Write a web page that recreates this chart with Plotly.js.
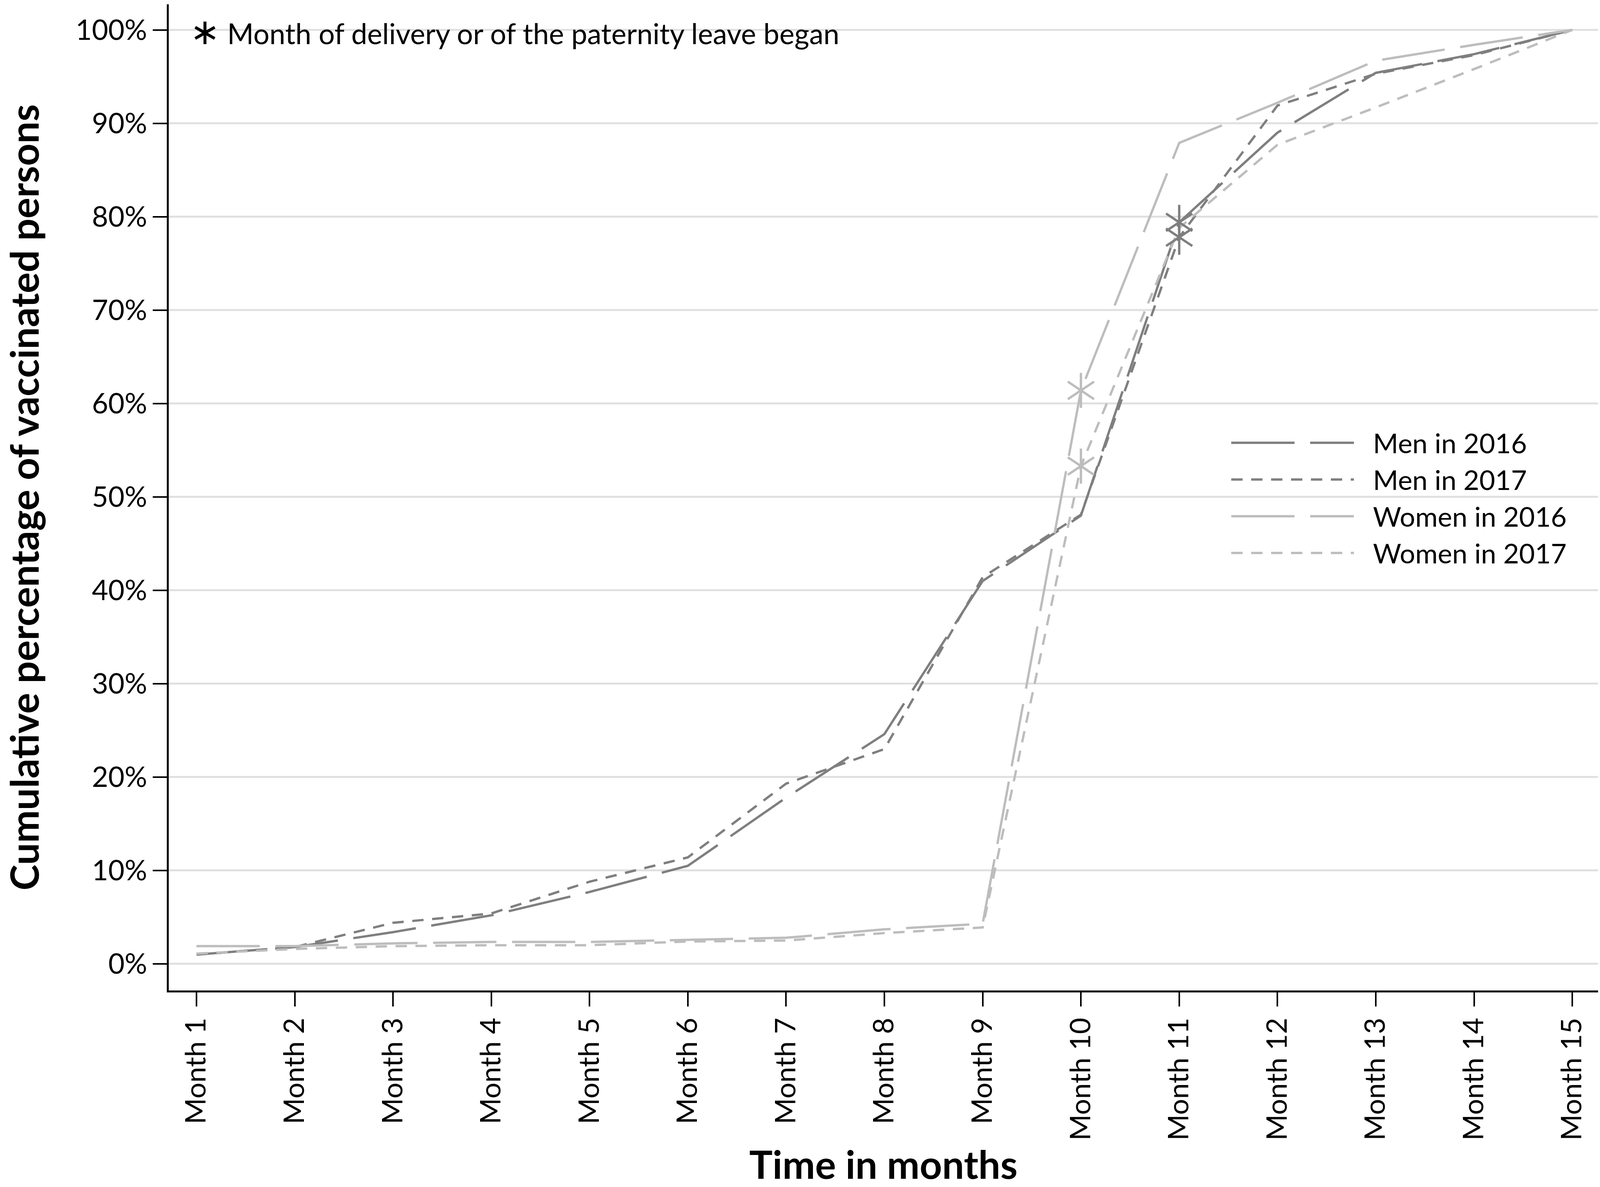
<!DOCTYPE html>
<html>
<head>
<meta charset="utf-8">
<script src="https://cdn.plot.ly/plotly-3.0.1.min.js"></script>
<style>
  html, body { margin: 0; padding: 0; background: #ffffff; }
  #chart { width: 4107px; height: 3038px; }
</style>
</head>
<body>
<div id="chart"></div>
<script>
// ---- data ----
var months = ["Month 1", "Month 2", "Month 3", "Month 4", "Month 5", "Month 6", "Month 7", "Month 8",
              "Month 9", "Month 10", "Month 11", "Month 12", "Month 13", "Month 14", "Month 15"];
var men2016   = [1.0, 1.8, 3.4, 5.2, 7.7, 10.5, 17.8, 24.6, 41.0, 48.0, 79.4, 89.0, 95.4, 97.4, 100];
var men2017   = [1.0, 1.8, 4.4, 5.4, 8.8, 11.4, 19.3, 23.0, 41.4, 48.1, 77.8, 91.9, 95.3, 97.3, 100];
var women2016 = [1.9, 1.9, 2.2, 2.35, 2.35, 2.6, 2.8, 3.7, 4.3, 61.4, 87.9, 92.2, 96.7, 98.4, 100];
var women2017 = [1.1, 1.6, 1.9, 2.0, 2.0, 2.4, 2.5, 3.3, 3.9, 53.3, 78.8, 87.7, 91.7, 95.8, 100];
var yTicks = [0, 10, 20, 30, 40, 50, 60, 70, 80, 90, 100];
var yTickLabels = ["0%", "10%", "20%", "30%", "40%", "50%", "60%", "70%", "80%", "90%", "100%"];
var seriesNames = ["Men in 2016", "Men in 2017", "Women in 2016", "Women in 2017"];
var menEventIndex = 10;   // Month 11: start of paternity leave
var womenEventIndex = 9;  // Month 10: month of delivery
var noteText = "Month of delivery or of the paternity leave began";

// ---- styling ----
var FONT = "Lato, 'Open Sans', 'DejaVu Sans', sans-serif";
var MEN_COLOR = "#7f7f7f";
var WOMEN_COLOR = "#bdbdbd";
var LONG_DASH = "162px,40px";
var SHORT_DASH = "29px,22px";
var LW = 6;
var LEGEND_GAP = "\u2002\u2009";

function lineTrace(y, name, color, dash) {
  return {
    x: months, y: y, name: LEGEND_GAP + name, type: "scatter", mode: "lines",
    line: {color: color, width: LW, dash: dash},
    hoverinfo: "skip"
  };
}
function starTrace(xs, ys, color, symbol) {
  return {
    x: xs, y: ys, type: "scatter", mode: "markers", showlegend: false,
    marker: {symbol: symbol, size: 56, color: color, line: {color: color, width: 6}},
    hoverinfo: "skip"
  };
}

var traces = [
  lineTrace(men2016, seriesNames[0], MEN_COLOR, LONG_DASH),
  lineTrace(men2017, seriesNames[1], MEN_COLOR, SHORT_DASH),
  lineTrace(women2016, seriesNames[2], WOMEN_COLOR, LONG_DASH),
  lineTrace(women2017, seriesNames[3], WOMEN_COLOR, SHORT_DASH)
];
var womenX = [months[womenEventIndex], months[womenEventIndex]];
var womenY = [women2016[womenEventIndex], women2017[womenEventIndex]];
var menX = [months[menEventIndex], months[menEventIndex]];
var menY = [men2016[menEventIndex], men2017[menEventIndex]];
["y-up", "y-down"].forEach(function (s) {
  traces.push(starTrace(womenX, womenY, WOMEN_COLOR, s));
});
["y-up", "y-down"].forEach(function (s) {
  traces.push(starTrace(menX, menY, MEN_COLOR, s));
});

var layout = {
  width: 4107, height: 3038,
  margin: {l: 432, r: 16, t: 11, b: 503, pad: 0},
  paper_bgcolor: "#ffffff", plot_bgcolor: "#ffffff",
  font: {family: FONT, size: 72, color: "#000000"},
  showlegend: true,
  legend: {
    x: 0.742, xanchor: "left", y: 0.576, yanchor: "top",
    bgcolor: "rgba(0,0,0,0)", borderwidth: 0,
    font: {family: FONT, size: 70, color: "#000000"},
    itemwidth: 314, traceorder: "normal", tracegroupgap: 0
  },
  xaxis: {
    type: "category",
    range: [-0.282, 14.262],
    tickangle: -90,
    ticks: "outside", ticklen: 36, tickwidth: 4, tickcolor: "#000000",
    showline: true, linecolor: "#000000", linewidth: 5,
    showgrid: false, zeroline: false,
    tickfont: {family: FONT, size: 72, color: "#000000"},
    automargin: false,
    title: {text: "Time in months", standoff: 56,
            font: {family: FONT, size: 100, color: "#000000", weight: "bold"}}
  },
  yaxis: {
    range: [-2.845, 102.74],
    tickmode: "array", tickvals: yTicks, ticktext: yTickLabels,
    ticks: "outside", ticklen: 36, tickwidth: 4, tickcolor: "#000000",
    showline: true, linecolor: "#000000", linewidth: 5,
    showgrid: true, gridcolor: "#e0e0e0", gridwidth: 5,
    zeroline: false,
    tickfont: {family: FONT, size: 72, color: "#000000"},
    automargin: false,
    title: {text: "Cumulative percentage of vaccinated persons", standoff: 96,
            font: {family: FONT, size: 100, color: "#000000", weight: "bold"}}
  },
  annotations: [{
    xref: "paper", yref: "paper", x: 0.0142, y: 0.9735,
    xanchor: "left", yanchor: "middle", showarrow: false,
    text: "<span style='font-size:92px'>\u2217</span> " + noteText,
    font: {family: FONT, size: 73, color: "#000000"}
  }]
};

Plotly.newPlot("chart", traces, layout, {displayModeBar: false, staticPlot: true});
</script>
</body>
</html>
